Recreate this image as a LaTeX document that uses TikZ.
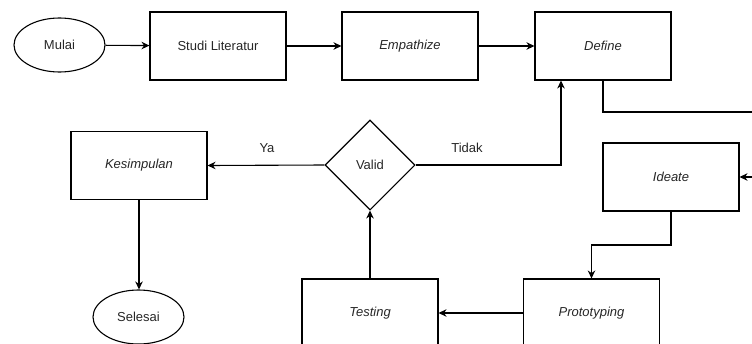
\documentclass[tikz,border=0pt]{standalone}
\usepackage{fontspec}
\setmainfont{Liberation Sans}
\usetikzlibrary{shapes.geometric,arrows.meta}
\begin{document}
\begin{tikzpicture}[x=1pt,y=-1pt,
  line width=1.1pt,
  every node/.style={font=\fontsize{13}{15}\selectfont, text=black!85},
  proc/.style={draw, rectangle, minimum width=136pt, minimum height=68pt, inner sep=0pt},
  term/.style={draw, ellipse, minimum width=91pt, minimum height=54pt, inner sep=0pt},
  decide/.style={draw, diamond, minimum width=90pt, minimum height=90pt, inner sep=0pt},
  flow/.style={-{Stealth[length=8pt,width=7.5pt]}},
  tag/.style={inner sep=0pt}]
\useasboundingbox (0,0) rectangle (752,343);
\clip (0,0) rectangle (752,343);

% process steps
\node[term] (mulai) at (59.5,45) {Mulai};
\node[proc] (studi) at (218,46) {Studi Literatur};
\node[proc] (emp) at (410,46) {\itshape Empathize};
\node[proc] (def) at (603,46) {\itshape Define};
\node[proc] (ideate) at (671,177) {\itshape Ideate};
\node[proc] (proto) at (591.5,313) {\itshape Prototyping};
\node[proc] (test) at (370,313) {\itshape Testing};
\node[decide] (valid) at (370,165) {Valid};
\node[proc] (kes) at (139,165.5) {\itshape Kesimpulan};
\node[term] (selesai) at (138.5,317) {Selesai};

% branch labels
\node[tag] (ya) at (267,148) {Ya};
\node[tag] (tidak) at (467,148) {Tidak};

% routing points
\coordinate (defdrop) at (603,112);
\coordinate (farright) at (790,112);
\coordinate (farin) at (790,177);
\coordinate (idtop) at (671,245);
\coordinate (prtop) at (591.5,245);
\coordinate (back) at (561,165);

% connectors
\draw[flow] (mulai) -- (studi);
\draw[flow] (studi) -- (emp);
\draw[flow] (emp) -- (def);
\draw (def.south) -- (defdrop) -- (farright) -- (farin);
\draw[flow] (farin) -- (ideate.east);
\draw[flow] (ideate.south) -- (idtop) -- (prtop) -- (proto.north);
\draw[flow] (proto.west) -- (test.east);
\draw[flow] (test.north) -- (valid.south);
\draw[flow] (valid.west) -- (kes.east);
\draw[flow] (valid.east) -- (back) -- (back |- def.south);
\draw[flow] (kes.south) -- (kes.south |- selesai.north);
\end{tikzpicture}
\end{document}
